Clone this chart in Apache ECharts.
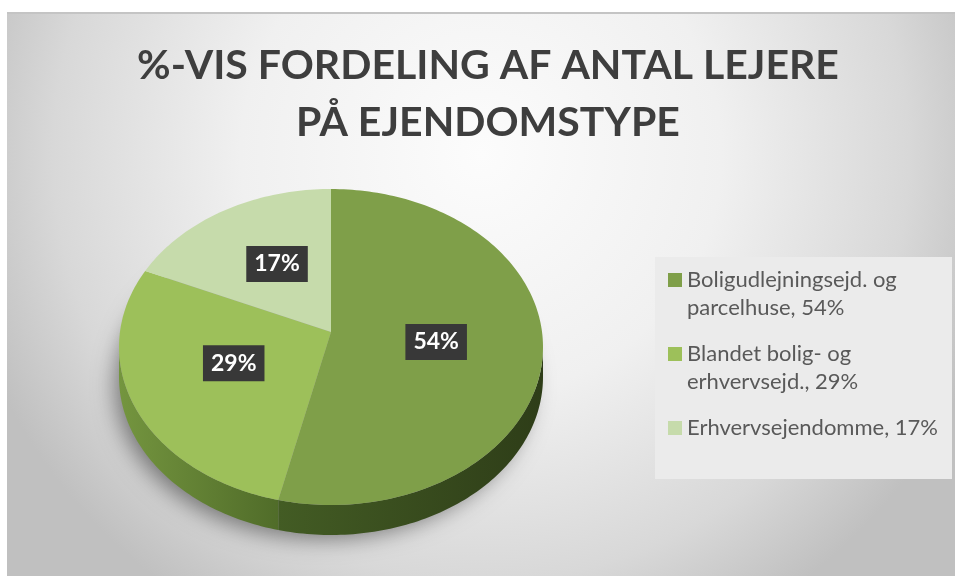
<!DOCTYPE html>
<html>
<head>
<meta charset="utf-8">
<script src="https://cdn.jsdelivr.net/npm/echarts@6/dist/echarts.min.js"></script>
<style>
html, body { margin: 0; padding: 0; background: #fff; }
#main { width: 955px; height: 576px; }
</style>
</head>
<body>
<div id="main"></div>
<script>
var categories = ['Boligudlejningsejd. og parcelhuse', 'Blandet bolig- og erhvervsejd.', 'Erhvervsejendomme'];
var values = [54, 29, 17];
var topColors = ['#7f9f49', '#9dc05a', '#c6dbab'];
var sideColors = [['#435c24', '#2e3d18'], ['#74953f', '#506c29'], ['#a9c27f', '#93ad69']];

var myChart = echarts.init(document.getElementById('main'));

var total = values.reduce(function (a, b) { return a + b; }, 0);
// ellipse of the pie top, side depth, and a lift of the apex (fake perspective)
var cx = 331, cy = 347, rx = 212, ry = 158, depth = 30, lift = 15;

function startAngle(i) {
	var s = 0;
	for (var k = 0; k < i; k++) s += values[k];
	return -Math.PI / 2 + s / total * Math.PI * 2;
}
function pt(a, dy) {
	return [cx + rx * Math.cos(a), cy + ry * Math.sin(a) + (dy || 0)];
}
function arc(a0, a1, dy) {
	var n = Math.max(2, Math.ceil(Math.abs(a1 - a0) / 0.02));
	var out = [];
	for (var k = 0; k <= n; k++) out.push(pt(a0 + (a1 - a0) * k / n, dy));
	return out;
}
// simple word wrap for the legend text
function wrap(str, max) {
	var words = str.split(' '), lines = [], cur = '';
	words.forEach(function (w) {
		if (cur && (cur + ' ' + w).length > max) {
			lines.push(cur);
			cur = w;
		} else {
			cur = cur ? cur + ' ' + w : w;
		}
	});
	lines.push(cur);
	return lines;
}

function renderSlice(params, api) {
	var i = params.dataIndex;
	var v = api.value(0);
	var a0 = startAngle(i);
	var a1 = a0 + v / total * Math.PI * 2;
	var children = [];
	// visible side wall (front half only)
	var s0 = Math.max(a0, 0), s1 = Math.min(a1, Math.PI);
	if (s1 > s0) {
		children.push({
			type: 'polygon',
			shape: { points: arc(s0, s1, 0).concat(arc(s1, s0, depth)) },
			style: {
				fill: new echarts.graphic.LinearGradient(0, 0, 1, 0, [
					{ offset: 0, color: sideColors[i][0] },
					{ offset: 1, color: sideColors[i][1] }
				])
			}
		});
	}
	// top face
	children.push({
		type: 'polygon',
		shape: { points: [[cx, cy - lift]].concat(arc(a0, a1, 0)) },
		style: { fill: topColors[i] }
	});
	var mid = (a0 + a1) / 2;
	children.push({
		type: 'text',
		z2: 10,
		x: cx + 0.5 * rx * Math.cos(mid),
		y: cy - lift + 0.5 * ry * Math.sin(mid),
		style: {
			text: v + '%',
			fill: '#fff',
			fontFamily: 'Lato',
			fontWeight: 'bold',
			fontSize: 23,
			align: 'center',
			verticalAlign: 'middle',
			backgroundColor: '#383838',
			padding: [7, 8, 6, 8],
			boxShadowBlur: 6,
			boxShadowColor: 'rgba(0,0,0,0.55)',
			boxShadowOffsetX: 2,
			boxShadowOffsetY: 3
		}
	});
	return { type: 'group', children: children };
}

var rich = {
	t: { fontFamily: 'Lato', fontSize: 22, color: '#595959', lineHeight: 28, padding: [0, 0, 0, 5] },
	s: { width: 14, height: 14 }
};
topColors.forEach(function (c, i) {
	rich['m' + i] = { width: 14, height: 14, backgroundColor: c };
});

option = {
	backgroundColor: '#fff',
	color: topColors,
	animation: false,
	title: {
		text: '%-VIS FORDELING AF ANTAL LEJERE\nPÅ EJENDOMSTYPE',
		left: 488,
		top: 37,
		padding: 0,
		textAlign: 'center',
		textStyle: {
			fontFamily: 'Lato',
			fontWeight: 'bold',
			fontSize: 41,
			lineHeight: 57,
			color: '#3e3e3e'
		}
	},
	graphic: [{
		type: 'rect',
		z: -10,
		shape: { x: 7, y: 13, width: 948, height: 563 },
		style: {
			fill: new echarts.graphic.RadialGradient(0.5, 0.25, 0.95, [
				{ offset: 0, color: '#fcfcfc' },
				{ offset: 0.45, color: '#f0f0f0' },
				{ offset: 0.8, color: '#d8d8d8' },
				{ offset: 1, color: '#c0c0c0' }
			])
		}
	}, {
		type: 'line',
		z: -9,
		shape: { x1: 7, y1: 13, x2: 955, y2: 13 },
		style: { stroke: '#c4c4c4', lineWidth: 2 }
	}, {
		type: 'ellipse',
		z: -8,
		shape: { cx: cx - 4, cy: cy + depth, rx: rx - 4, ry: ry - 4 },
		style: { fill: '#999', shadowBlur: 22, shadowColor: 'rgba(0,0,0,0.45)', shadowOffsetX: -4, shadowOffsetY: 8 }
	}, {
		type: 'rect',
		z: -8,
		shape: { x: 655, y: 257, width: 297, height: 222 },
		style: { fill: '#ebebeb' }
	}],
	legend: {
		orient: 'vertical',
		left: 655,
		top: 266,
		padding: [0, 0, 0, 8],
		icon: 'rect',
		itemWidth: 0,
		itemHeight: 0,
		itemGap: 18,
		selectedMode: false,
		data: categories,
		formatter: function (name) {
			var i = categories.indexOf(name);
			var lines = wrap(name + ', ' + values[i] + '%', 24);
			return lines.map(function (l, k) {
				return (k === 0 ? '{m' + i + '|}' : '{s|}') + '{t|' + l + '}';
			}).join('\n');
		},
		textStyle: { fontFamily: 'Lato', fontSize: 22, color: '#595959', lineHeight: 28, rich: rich }
	},
	series: [{
		type: 'custom',
		name: 'Lejere',
		coordinateSystem: 'none',
		renderItem: renderSlice,
		data: categories.map(function (c, i) { return { name: c, value: values[i] }; })
	}, {
		// carries the legend entries only
		type: 'pie',
		name: 'legend',
		silent: true,
		radius: 0,
		center: [-50, -50],
		label: { show: false },
		labelLine: { show: false },
		data: categories.map(function (c, i) { return { name: c, value: values[i] }; })
	}]
};
myChart.setOption(option);
</script>
</body>
</html>
